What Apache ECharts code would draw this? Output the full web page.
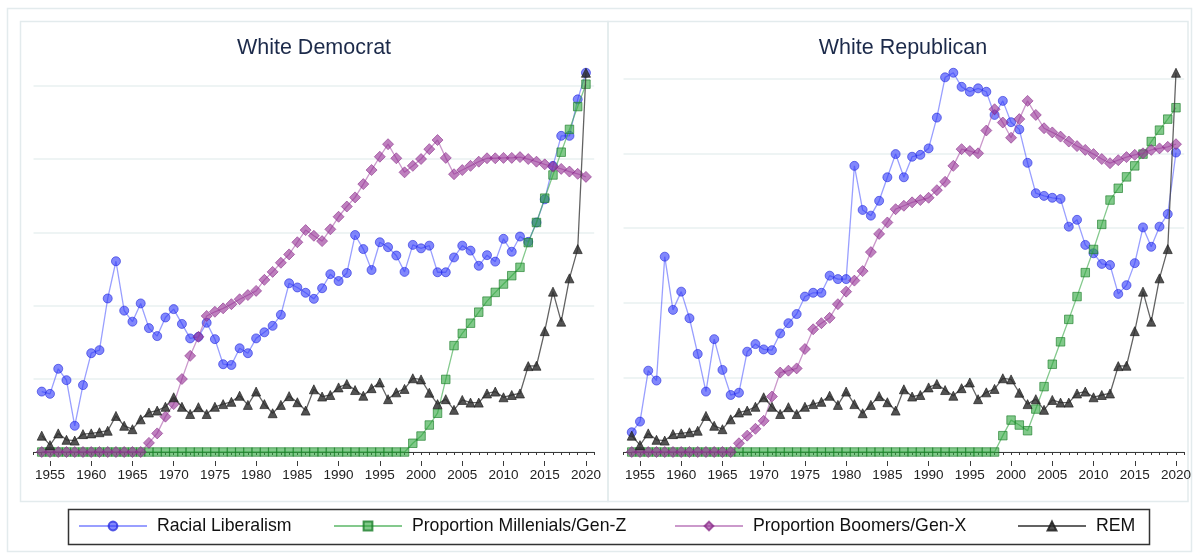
<!DOCTYPE html>
<html>
<head>
<meta charset="utf-8">
<script src="https://cdn.jsdelivr.net/npm/echarts@6/dist/echarts.min.js"></script>
<style>
  html, body { margin: 0; padding: 0; background: #ffffff; }
  #chart { width: 1194px; height: 557px; }
</style>
</head>
<body>
<div id="chart"></div>
<script>
// Survey years on the x axis
const FIRST_YEAR = 1954;
const YEAR_COUNT = 67; // 1954 .. 2020
const tickYears = [1955, 1960, 1965, 1970, 1975, 1980, 1985, 1990, 1995, 2000, 2005, 2010, 2015, 2020];

const panelTitles = ['White Democrat', 'White Republican'];
const seriesNames = ['Racial Liberalism', 'Proportion Millenials/Gen-Z', 'Proportion Boomers/Gen-X', 'REM'];

// ---- White Democrat panel ----
const demRacialLib = [
  0.159, 0.153, 0.219, 0.189, 0.069, 0.176, 0.260, 0.268, 0.404, 0.502,
  0.372, 0.343, 0.391, 0.326, 0.305, 0.354, 0.376, 0.337, 0.299, 0.303,
  0.340, 0.297, 0.231, 0.229, 0.273, 0.260, 0.299, 0.315, 0.332, 0.361,
  0.444, 0.433, 0.419, 0.403, 0.431, 0.468, 0.450, 0.471, 0.571, 0.534,
  0.479, 0.552, 0.539, 0.517, 0.474, 0.545, 0.536, 0.543, 0.473, 0.473,
  0.512, 0.543, 0.530, 0.490, 0.518, 0.501, 0.561, 0.527, 0.567, 0.553,
  0.604, 0.665, 0.753, 0.832, 0.832, 0.928, 0.998
];
const demMillenials = [
  0, 0, 0, 0, 0, 0, 0, 0, 0, 0,
  0, 0, 0, 0, 0, 0, 0, 0, 0, 0,
  0, 0, 0, 0, 0, 0, 0, 0, 0, 0,
  0, 0, 0, 0, 0, 0, 0, 0, 0, 0,
  0, 0, 0, 0, 0,
  0.023, 0.042, 0.071, 0.102, 0.191, 0.280, 0.312, 0.339, 0.368, 0.397,
  0.420, 0.442, 0.464, 0.486, 0.551, 0.604, 0.668, 0.729, 0.789, 0.849,
  0.909, 0.968
];
const demBoomers = [
  0, 0, 0, 0, 0, 0, 0, 0, 0, 0, 0, 0, 0,
  0.024, 0.049, 0.093, 0.126, 0.192, 0.253, 0.303, 0.358, 0.369, 0.378,
  0.389, 0.402, 0.413, 0.424, 0.453, 0.474, 0.498, 0.520, 0.552, 0.584,
  0.569, 0.555, 0.586, 0.619, 0.646, 0.670, 0.705, 0.742, 0.777, 0.810,
  0.773, 0.736, 0.753, 0.771, 0.797, 0.821, 0.774, 0.731, 0.742, 0.753,
  0.764, 0.773, 0.773, 0.774, 0.774, 0.776, 0.771, 0.764, 0.757, 0.751,
  0.745, 0.738, 0.732, 0.724
];

// ---- White Republican panel ----
const repRacialLib = [
  0.052, 0.080, 0.214, 0.188, 0.514, 0.374, 0.422, 0.352, 0.258, 0.159,
  0.297, 0.216, 0.150, 0.156, 0.264, 0.284, 0.270, 0.268, 0.312, 0.339,
  0.363, 0.409, 0.419, 0.419, 0.464, 0.455, 0.455, 0.753, 0.637, 0.622,
  0.661, 0.723, 0.784, 0.723, 0.777, 0.782, 0.799, 0.880, 0.986, 0.998,
  0.961, 0.948, 0.957, 0.948, 0.887, 0.924, 0.868, 0.849, 0.761, 0.681,
  0.674, 0.669, 0.666, 0.593, 0.611, 0.545, 0.523, 0.495, 0.492, 0.416,
  0.439, 0.497, 0.591, 0.540, 0.593, 0.626, 0.788
];
const repMillenials = [
  0, 0, 0, 0, 0, 0, 0, 0, 0, 0,
  0, 0, 0, 0, 0, 0, 0, 0, 0, 0,
  0, 0, 0, 0, 0, 0, 0, 0, 0, 0,
  0, 0, 0, 0, 0, 0, 0, 0, 0, 0,
  0, 0, 0, 0, 0,
  0.043, 0.084, 0.071, 0.056, 0.113, 0.172, 0.231, 0.290, 0.349, 0.409,
  0.472, 0.533, 0.599, 0.663, 0.694, 0.724, 0.753, 0.784, 0.817, 0.847,
  0.876, 0.906
];
const repBoomers = [
  0, 0, 0, 0, 0, 0, 0, 0, 0, 0, 0, 0, 0,
  0.023, 0.043, 0.061, 0.082, 0.146, 0.209, 0.214, 0.220, 0.271, 0.323,
  0.339, 0.353, 0.389, 0.422, 0.451, 0.476, 0.526, 0.574, 0.604, 0.639,
  0.648, 0.657, 0.663, 0.669, 0.689, 0.711, 0.753, 0.797, 0.792, 0.786,
  0.846, 0.902, 0.867, 0.827, 0.876, 0.924, 0.887, 0.852, 0.841, 0.830,
  0.817, 0.805, 0.795, 0.784, 0.771, 0.760, 0.768, 0.776, 0.782, 0.786,
  0.795, 0.799, 0.803, 0.810
];

// REM index (same in both panels)
const rem = [
  0.043, 0.018, 0.049, 0.032, 0.030, 0.047, 0.049, 0.052, 0.056, 0.095,
  0.069, 0.060, 0.086, 0.104, 0.109, 0.119, 0.144, 0.119, 0.100, 0.118,
  0.100, 0.119, 0.126, 0.132, 0.148, 0.124, 0.159, 0.126, 0.102, 0.124,
  0.147, 0.131, 0.109, 0.165, 0.146, 0.150, 0.170, 0.179, 0.163, 0.148,
  0.168, 0.183, 0.139, 0.157, 0.166, 0.194, 0.191, 0.156, 0.126, 0.139,
  0.111, 0.137, 0.130, 0.130, 0.154, 0.159, 0.144, 0.150, 0.154, 0.226,
  0.227, 0.318, 0.422, 0.343, 0.457, 0.534, 0.998
];

// Horizontal reference-line spacing of each panel's y scale
const gridStep = [0.1926, 0.1963];

const years = Array.from({ length: YEAR_COUNT }, (_, i) => FIRST_YEAR + i);
const pairs = (vals) => vals.map((v, i) => [years[i], v]);

const FONT = '"Liberation Sans", Arial, Helvetica, sans-serif';
const Y_MAX = 1.06;

const styles = [
  { symbol: 'circle', size: 9,
    fill: 'rgba(45,55,250,0.6)', edge: 'rgba(35,40,220,0.75)', line: 'rgba(80,90,255,0.58)' },
  { symbol: 'rect', size: 8.5,
    fill: 'rgba(45,165,60,0.6)', edge: 'rgba(25,125,40,0.8)', line: 'rgba(50,165,65,0.6)' },
  { symbol: 'diamond', size: 11,
    fill: 'rgba(150,50,150,0.62)', edge: 'rgba(135,40,135,0.72)', line: 'rgba(165,80,165,0.58)' },
  { symbol: 'triangle', size: 9,
    fill: 'rgba(45,45,45,0.82)', edge: 'rgba(30,30,30,0.85)', line: 'rgba(60,60,60,0.8)' }
];

const panelData = [
  [demRacialLib, demMillenials, demBoomers, rem],
  [repRacialLib, repMillenials, repBoomers, rem]
];

const grids = [
  { left: 33.5, right: 599.8, top: 452 - Y_MAX * 380, bottom: 105 },
  { left: 623.5, right: 8.7, top: 452 - Y_MAX * 380, bottom: 105 }
];

const xAxes = [];
const yAxes = [];
const series = [];

grids.forEach((g, p) => {
  // year axis: one tick per year, labelled every five years
  xAxes.push({
    type: 'value', gridIndex: p, min: 1953, max: 2021, interval: 1, offset: 9,
    axisLine: { show: true, lineStyle: { color: '#3a3a3a', width: 1 } },
    axisTick: { show: true, length: 3, lineStyle: { color: '#3a3a3a', width: 1 } },
    axisLabel: { show: false },
    splitLine: { show: false }
  });
  xAxes.push({
    type: 'value', gridIndex: p, min: 1953, max: 2021, offset: 9, position: 'bottom',
    axisLine: { show: false },
    axisTick: { show: true, length: 5, customValues: tickYears, lineStyle: { color: '#3a3a3a', width: 1 } },
    axisLabel: { show: true, customValues: tickYears, margin: 7, color: '#222',
                 fontFamily: FONT, fontSize: 13.5, formatter: (v) => String(v) },
    splitLine: { show: false }
  });
  yAxes.push({
    type: 'value', gridIndex: p, min: 0, max: Y_MAX, interval: gridStep[p],
    axisLine: { show: false }, axisTick: { show: false }, axisLabel: { show: false },
    splitLine: { show: true, showMaxLine: false, lineStyle: { color: '#e9f1f1', width: 1.5 } }
  });

  panelData[p].forEach((vals, k) => {
    const s = styles[k];
    series.push({
      name: seriesNames[k],
      type: 'line',
      xAxisIndex: p * 2,
      yAxisIndex: p,
      data: pairs(vals),
      symbol: s.symbol,
      symbolSize: s.size,
      showAllSymbol: true,
      z: 2 + k,
      lineStyle: { color: s.line, width: 1.3 },
      itemStyle: { color: s.fill, borderColor: s.edge, borderWidth: 0.8 },
      emphasis: { disabled: true }
    });
  });
});

// legend: one entry per series, laid out along a single row
const legendX = [78, 333, 674, 1017];
const legends = seriesNames.map((n, k) => ({
  data: [n],
  left: legendX[k],
  top: 517,
  padding: 0,
  itemWidth: 68,
  itemHeight: 11,
  selectedMode: false,
  formatter: ' {name}',
  textStyle: { fontFamily: FONT, fontSize: 17.7, color: '#111' }
}));

const frameColor = '#e3ebed';
const graphics = [
  { type: 'rect', z: -10, shape: { x: 7.5, y: 8.5, width: 1184, height: 543 },
    style: { fill: 'none', stroke: frameColor, lineWidth: 1.5 } },
  { type: 'rect', z: -10, shape: { x: 20.5, y: 21.5, width: 587.5, height: 480 },
    style: { fill: 'none', stroke: frameColor, lineWidth: 1.5 } },
  { type: 'rect', z: -10, shape: { x: 608, y: 21.5, width: 580, height: 480 },
    style: { fill: 'none', stroke: frameColor, lineWidth: 1.5 } },
  { type: 'rect', z: 10, shape: { x: 68.5, y: 509.5, width: 1081, height: 35 },
    style: { fill: 'none', stroke: '#333', lineWidth: 1.5 } },
  { type: 'text', x: 314, y: 48, z: 10,
    style: { text: panelTitles[0], font: '21.5px ' + FONT, fill: '#1c2a4a',
             textAlign: 'center', textVerticalAlign: 'middle' } },
  { type: 'text', x: 903, y: 48, z: 10,
    style: { text: panelTitles[1], font: '21.5px ' + FONT, fill: '#1c2a4a',
             textAlign: 'center', textVerticalAlign: 'middle' } }
];

const chart = echarts.init(document.getElementById('chart'), null, { renderer: 'canvas' });
chart.setOption({
  animation: false,
  backgroundColor: '#ffffff',
  grid: grids,
  xAxis: xAxes,
  yAxis: yAxes,
  legend: legends,
  graphic: graphics,
  series: series
});
</script>
</body>
</html>
